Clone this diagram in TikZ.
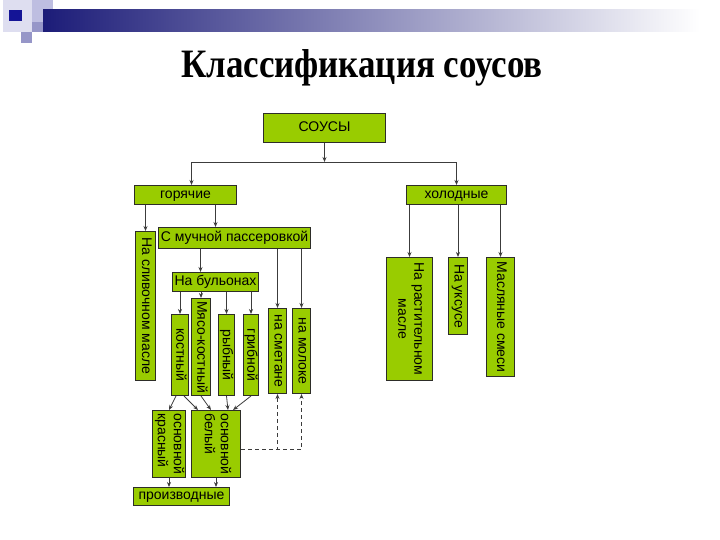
\documentclass[tikz,border=0pt]{standalone}
\usepackage{fontspec}
\setmainfont{Liberation Serif}
\setsansfont{Liberation Sans}
\usetikzlibrary{arrows.meta,positioning,calc}

\definecolor{sauceGreen}{RGB}{153,204,0}
\definecolor{boxEdge}{RGB}{45,45,40}
\definecolor{lineGray}{RGB}{60,60,60}
\definecolor{barNavy}{RGB}{28,28,120}
\definecolor{decoLight}{RGB}{222,222,240}
\definecolor{decoMid}{RGB}{190,190,225}
\definecolor{decoDark}{RGB}{150,150,200}
\definecolor{decoBlue}{RGB}{20,20,150}

% rotated (top-to-bottom) labels: one line, or several lines given with \\
\newcommand{\vone}[1]{\rotatebox{-90}{\rule[-3pt]{0pt}{12pt}#1}}
\newcommand{\vlbl}[2][c]{\rotatebox{-90}{\begin{tabular}{@{}#1@{}}#2\end{tabular}}}

\begin{document}
\begin{tikzpicture}[
  x=1pt, y=-1pt,
  font=\sffamily\fontsize{14}{16}\selectfont,
  >={Stealth[length=5pt,width=4pt]},
  sbox/.style={
    draw=boxEdge, line width=1pt, fill=sauceGreen,
    inner sep=0pt, anchor=north west, align=center
  },
  hbox/.style={sbox, text height=9.5pt, text depth=3pt},
  arr/.style={->, draw=lineGray, line width=0.8pt},
  dasharr/.style={arr, dashed, dash pattern=on 4pt off 3pt},
  titlelbl/.style={font=\rmfamily\bfseries\fontsize{36}{40}\selectfont, anchor=base}
]
\useasboundingbox (0,0) rectangle (720,540);

% =============================================================
% slide decoration + title
% =============================================================
\fill[decoLight] (3,0) rectangle (32,32);
\fill[decoMid] (32,0) rectangle (53,22);
\fill[decoDark] (32,22) rectangle (43,32);
\fill[decoDark] (21,32) rectangle (32,43);
\fill[decoBlue] (9,10) rectangle (22,21);
\shade[left color=barNavy, right color=white] (43,10) rectangle (700,32);

\node[titlelbl] (title) at (362,78) {\scalebox{0.97}[1.12]{Классификация соусов}};

% =============================================================
% top levels
% =============================================================
\node[hbox, minimum width=122pt, minimum height=29pt] (sauce) at (263,113) {СОУСЫ};
\node[hbox, minimum width=102pt, minimum height=19pt] (hot) at (134,185) {горячие};
\node[hbox, minimum width=100pt, minimum height=19pt] (cold) at (406,185) {холодные};

% hot branch
\node[sbox, minimum width=20pt, minimum height=149pt] (butter) at (135,231)
   {\vone{На сливочном масле}};
\node[hbox, minimum width=152pt, minimum height=21pt] (passer) at (158,227)
   {С мучной пассеровкой};
\node[hbox, minimum width=86pt, minimum height=19pt] (broth) at (172,272)
   {На бульонах};

% bouillons
\node[sbox, minimum width=17pt, minimum height=81pt] (bone) at (171,314) {\vone{костный}};
\node[sbox, minimum width=19pt, minimum height=97pt] (meat) at (191,298) {\vone{Мясо-костный}};
\node[sbox, minimum width=16pt, minimum height=81pt] (fish) at (218,314) {\vone{рыбный}};
\node[sbox, minimum width=15pt, minimum height=81pt] (mush) at (243,314) {\vone{грибной}};
\node[sbox, minimum width=18pt, minimum height=85pt] (cream) at (268,308) {\vone{на сметане}};
\node[sbox, minimum width=18pt, minimum height=85pt] (milk) at (292,308) {\vone{на молоке}};

% base sauces
\node[sbox, minimum width=33pt, minimum height=67pt] (red) at (152,410)
   {\vlbl[l]{основной\\красный}};
\node[sbox, minimum width=49pt, minimum height=67pt] (white) at (191,410)
   {\vlbl[l]{основной\\белый}};
\node[hbox, minimum width=96pt, minimum height=18pt] (deriv) at (133,487) {производные};

% cold branch
\node[sbox, minimum width=46pt, minimum height=123pt] (oil) at (386,257)
   {\vlbl{На растительном\\масле}};
\node[sbox, minimum width=19pt, minimum height=77pt] (vinegar) at (448,257) {\vone{На уксусе}};
\node[sbox, minimum width=28pt, minimum height=119pt] (mixes) at (486,257) {\vone{Масляные смеси}};

% =============================================================
% arrows
% =============================================================
\coordinate (fork) at ($(sauce.south)+(0,19)$);
\draw[arr] (sauce.south) -- (fork);
\draw[arr] (fork) -| ([xshift=6pt]hot.north);
\draw[arr] (fork) -| (cold.north);

% hot -> butter / roux
\draw[arr] (hot.south -| butter.north) -- (butter.north);
\draw[arr] ([xshift=30pt]hot.south) -- ([xshift=30pt]hot.south |- passer.north);

% roux -> broth, cream, milk
\draw[arr] ([xshift=-15pt]broth.north |- passer.south) -- ([xshift=-15pt]broth.north);
\draw[arr] (cream.north |- passer.south) -- (cream.north);
\draw[arr] (milk.north |- passer.south) -- (milk.north);

% broth -> bouillons
\foreach \b in {bone,meat,fish,mush}
  \draw[arr] (\b.north |- broth.south) -- (\b.north);

% cold -> cold sauces
\foreach \c in {oil,vinegar,mixes}
  \draw[arr] (\c.north |- cold.south) -- (\c.north);

% bouillons -> base sauces
\draw[arr] ([xshift=-4pt]bone.south) -- (red.north);
\draw[arr] ([xshift=4pt]bone.south) -- ([xshift=-18pt]white.north);
\draw[arr] (meat.south) -- ([xshift=-5pt]white.north);
\draw[arr] (fish.south) -- ([xshift=12pt]white.north);
\draw[arr] (mush.south) -- ([xshift=17pt]white.north);

% base sauces -> derived
\draw[arr] (red.south) -- (red.south |- deriv.north);
\draw[arr] (white.south) -- (white.south |- deriv.north);

% white base -> cream / milk
\draw[dasharr] ([yshift=-5pt]white.east) -| (milk.south);
\draw[dasharr] ([yshift=-5pt]white.east) -| (cream.south);

\end{tikzpicture}
\end{document}
